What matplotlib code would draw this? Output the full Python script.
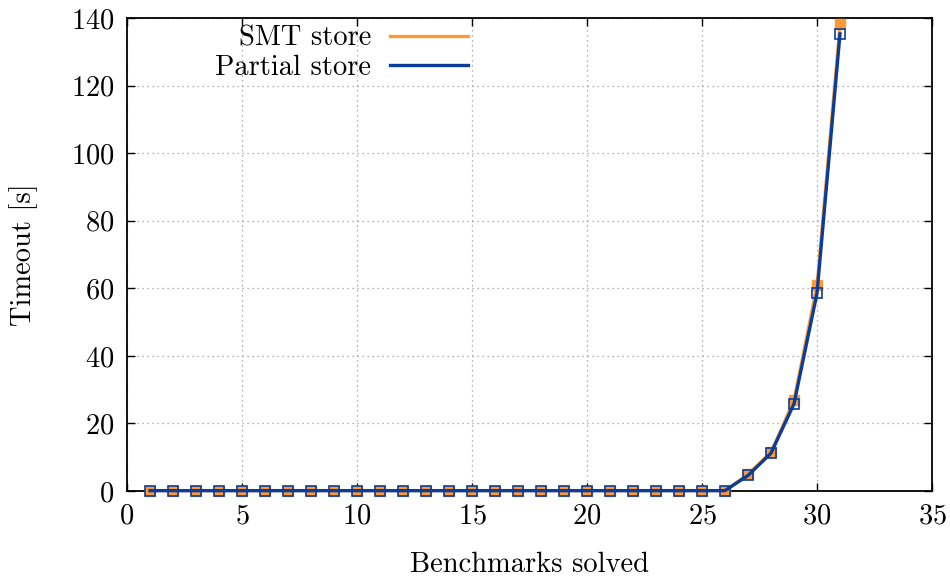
import numpy as np
import matplotlib
matplotlib.use("Agg")
import matplotlib.pyplot as plt
from matplotlib.lines import Line2D

# benchmarks solved (x) and timeout in seconds (y)
bench = list(range(1, 32))
smt_store = [0.1] * 26 + [5.0, 11.5, 27.0, 61.0, 138.3]
partial_store = [0.1] * 26 + [4.6, 11.2, 25.8, 58.5, 135.3]

orange = "#ff9933"
blue = "#0a3d9a"

plt.rcParams["font.family"] = "cmr10"
plt.rcParams["mathtext.fontset"] = "cm"
plt.rcParams["axes.formatter.use_mathtext"] = True
plt.rcParams["font.size"] = 20.5

fig = plt.figure(figsize=(9.5, 5.82), dpi=100)
ax = fig.add_axes([127 / 950, 1 - 491 / 582, (932 - 127) / 950, (491 - 18) / 582])

ax.plot(bench, smt_store, color=orange, lw=2.2, marker="s", ms=7,
        mfc=orange, mec=orange, zorder=3, clip_on=False)
ax.plot(bench, partial_store, color=blue, lw=2.4, marker="s", ms=7,
        mfc="none", mec=blue, mew=1.2, zorder=4, clip_on=False)

ax.set_xlim(0, 35)
ax.set_ylim(0, 140)
ax.set_xticks(range(0, 36, 5))
ax.set_yticks(range(0, 141, 20))
ax.grid(True, ls=(0, (1, 3)), color="#999999", lw=0.9)
ax.tick_params(direction="in", top=True, right=True, length=6, width=1.0, pad=9)
for s in ax.spines.values():
    s.set_linewidth(1.3)

ax.set_xlabel("Benchmarks solved", labelpad=16)
ax.set_ylabel("Timeout [s]", labelpad=24)

handles = [Line2D([], [], color=orange, lw=2.4), Line2D([], [], color=blue, lw=2.4)]
ax.legend(handles, ["SMT store", "Partial store"], loc="upper left",
          bbox_to_anchor=(0.078, 1.038), frameon=False, markerfirst=False,
          handlelength=2.75, handletextpad=0.65, labelspacing=0.08, fontsize=20.5)

fig.savefig("out.png", dpi=100)
